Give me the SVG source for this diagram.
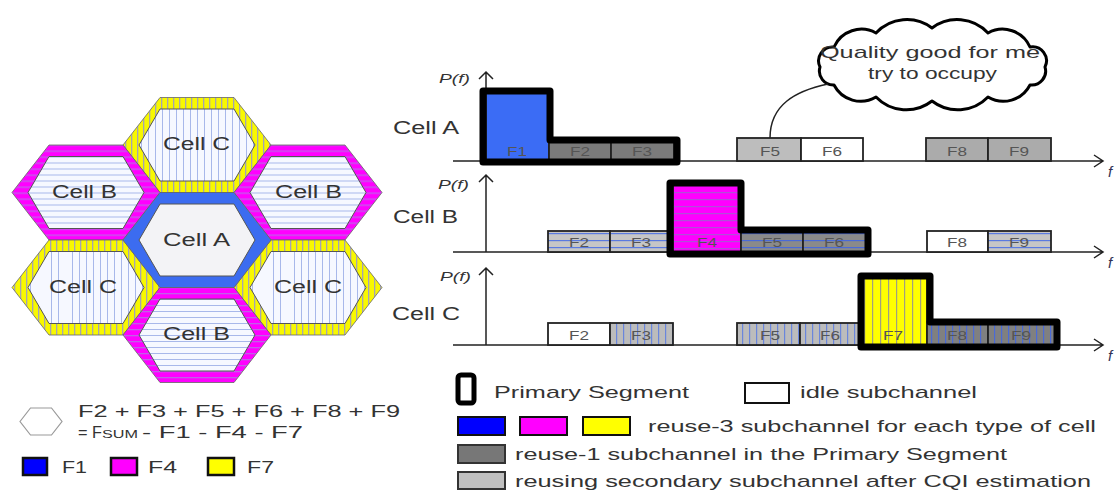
<svg xmlns="http://www.w3.org/2000/svg" xmlns:xlink="http://www.w3.org/1999/xlink" width="1118" height="492" viewBox="0 0 1118 492">
<style>
.t{font-family:"Liberation Sans",Arial,sans-serif;fill:#333}
.hl{font-size:18px}
.bl{font-size:13px;fill:#555;text-anchor:middle}
.pf{font-size:12px;font-style:italic}
.ax{font-size:15px;font-style:italic;fill:#335}
.lg{font-size:17px}
.box{stroke:#222;stroke-width:1.8}
.prim{fill:none;stroke:#000;stroke-width:7;stroke-linejoin:round}
.axis{fill:none;stroke:#222;stroke-width:1.5}
.hexo{stroke:#666;stroke-width:0.8}
.hexi{stroke:#555;stroke-width:1}
</style>
<defs>
<pattern id="pYelRing" width="6" height="10" patternUnits="userSpaceOnUse"><rect width="6" height="10" fill="#f8f800"/><rect width="1.3" height="10" fill="#a4a4b4"/></pattern>
<pattern id="pMagRing" width="10" height="6" patternUnits="userSpaceOnUse"><rect width="10" height="6" fill="#ff00ff"/><rect width="10" height="1.3" fill="#c060e8"/></pattern>
<pattern id="pBIn" width="10" height="6" patternUnits="userSpaceOnUse"><rect width="10" height="6" fill="#f6f8ff"/><rect width="10" height="1" fill="#a8b8ea"/></pattern>
<pattern id="pCIn" width="7" height="10" patternUnits="userSpaceOnUse"><rect width="7" height="10" fill="#f6f8ff"/><rect width="1" height="10" fill="#a8b8ea"/></pattern>
<pattern id="pHLight" width="10" height="7" patternUnits="userSpaceOnUse"><rect width="10" height="7" fill="#c6c6c6"/><rect y="2" width="10" height="1.2" fill="#5a7ae0"/></pattern>
<pattern id="pHDark" width="10" height="7" patternUnits="userSpaceOnUse"><rect width="10" height="7" fill="#8a8a8a"/><rect y="2" width="10" height="1.2" fill="#4a6ad8"/></pattern>
<pattern id="pVLight" width="7" height="10" patternUnits="userSpaceOnUse"><rect width="7" height="10" fill="#bcbcbc"/><rect width="1.2" height="10" fill="#6a86dc"/></pattern>
<pattern id="pVDark" width="7" height="10" patternUnits="userSpaceOnUse"><rect width="7" height="10" fill="#808080"/><rect width="1.2" height="10" fill="#4a6ad8"/></pattern>
<pattern id="pMag" width="10" height="7" patternUnits="userSpaceOnUse"><rect width="10" height="7" fill="#ff00ff"/><rect y="3" width="10" height="1.2" fill="#b050d8"/></pattern>
<pattern id="pYel" width="8" height="10" patternUnits="userSpaceOnUse"><rect width="8" height="10" fill="#ffff00"/><rect width="1.2" height="10" fill="#a0a080"/></pattern>
<polygon id="hexO" points="-74,0 -37,-47.5 37,-47.5 74,0 37,47.5 -37,47.5"/>
<polygon id="hexI" points="-58,0 -37,-36 37,-36 58,0 37,36 -37,36"/>
</defs>
<rect width="1118" height="492" fill="#fff"/>

<!-- Hexagon cluster -->
<g id="hex-c-top" transform="translate(197,145)">
<use xlink:href="#hexO" href="#hexO" class="hexo" fill="url(#pYelRing)"/>
<use xlink:href="#hexI" href="#hexI" class="hexi" fill="url(#pCIn)"/>
<text class="t hl" x="-34" y="5" textLength="67" lengthAdjust="spacingAndGlyphs">Cell C</text>
</g>
<g id="hex-b-left" transform="translate(86,192.5)">
<use xlink:href="#hexO" href="#hexO" class="hexo" fill="url(#pMagRing)"/>
<use xlink:href="#hexI" href="#hexI" class="hexi" fill="url(#pBIn)"/>
<text class="t hl" x="-34" y="5" textLength="65" lengthAdjust="spacingAndGlyphs">Cell B</text>
</g>
<g id="hex-b-right" transform="translate(308,192.5)">
<use xlink:href="#hexO" href="#hexO" class="hexo" fill="url(#pMagRing)"/>
<use xlink:href="#hexI" href="#hexI" class="hexi" fill="url(#pBIn)"/>
<text class="t hl" x="-33" y="5" textLength="67" lengthAdjust="spacingAndGlyphs">Cell B</text>
</g>
<g id="hex-c-left" transform="translate(86,287.5)">
<use xlink:href="#hexO" href="#hexO" class="hexo" fill="url(#pYelRing)"/>
<use xlink:href="#hexI" href="#hexI" class="hexi" fill="url(#pCIn)"/>
<text class="t hl" x="-37" y="5" textLength="68" lengthAdjust="spacingAndGlyphs">Cell C</text>
</g>
<g id="hex-c-right" transform="translate(308,287.5)">
<use xlink:href="#hexO" href="#hexO" class="hexo" fill="url(#pYelRing)"/>
<use xlink:href="#hexI" href="#hexI" class="hexi" fill="url(#pCIn)"/>
<text class="t hl" x="-34" y="5" textLength="68" lengthAdjust="spacingAndGlyphs">Cell C</text>
</g>
<g id="hex-b-bottom" transform="translate(197,335)">
<use xlink:href="#hexO" href="#hexO" class="hexo" fill="url(#pMagRing)"/>
<use xlink:href="#hexI" href="#hexI" class="hexi" fill="url(#pBIn)"/>
<text class="t hl" x="-34" y="5" textLength="67" lengthAdjust="spacingAndGlyphs">Cell B</text>
</g>
<g id="hex-a" transform="translate(197,240)">
<use xlink:href="#hexO" href="#hexO" class="hexo" fill="#3c6cf0"/>
<use xlink:href="#hexI" href="#hexI" class="hexi" fill="#f3f3f6"/>
<text class="t hl" x="-34" y="6" textLength="67" lengthAdjust="spacingAndGlyphs">Cell A</text>
</g>

<!-- Axes -->
<g id="axes">
<path class="axis" d="M453,161 H1103 M1094,155 L1103,161 L1094,167 M486,161 V72 M479,79 L486,72 L493,79"/>
<path class="axis" d="M453,252 H1103 M1094,246 L1103,252 L1094,258 M486,252 V175 M479,182 L486,175 L493,182"/>
<path class="axis" d="M453,345 H1103 M1094,339 L1103,345 L1094,351 M486,345 V268 M479,275 L486,268 L493,275"/>
<text class="t pf" x="439" y="83" textLength="31" lengthAdjust="spacingAndGlyphs">P(f)</text>
<text class="t pf" x="438" y="189" textLength="31" lengthAdjust="spacingAndGlyphs">P(f)</text>
<text class="t pf" x="440" y="281" textLength="31" lengthAdjust="spacingAndGlyphs">P(f)</text>
<text class="t ax" x="1108" y="177">f</text>
<text class="t ax" x="1108" y="268">f</text>
<text class="t ax" x="1108" y="361">f</text>
</g>

<!-- Cell A spectrum -->
<g id="cell-a">
<text class="t hl" x="393" y="134" textLength="66" lengthAdjust="spacingAndGlyphs">Cell A</text>
<rect class="box" x="486" y="91" width="63" height="70" fill="#3b6cf5"/>
<rect class="box" x="549" y="139" width="62" height="22" fill="#7b7b7b"/>
<rect class="box" x="611" y="139" width="63" height="22" fill="#7b7b7b"/>
<rect class="box" x="737" y="138" width="64" height="23" fill="#bdbdbd"/>
<rect class="box" x="801" y="138" width="62" height="23" fill="#fff"/>
<rect class="box" x="926" y="138" width="62" height="23" fill="#ababab"/>
<rect class="box" x="988" y="138" width="63" height="23" fill="#ababab"/>
<path class="prim" d="M483,162 V91 H550 V140 H677 V162 Z"/>
<text class="t bl" x="517" y="156" textLength="20" lengthAdjust="spacingAndGlyphs">F1</text>
<text class="t bl" x="580" y="156" textLength="20" lengthAdjust="spacingAndGlyphs">F2</text>
<text class="t bl" x="642" y="156" textLength="20" lengthAdjust="spacingAndGlyphs">F3</text>
<text class="t bl" x="770" y="156" textLength="20" lengthAdjust="spacingAndGlyphs">F5</text>
<text class="t bl" x="832" y="156" textLength="20" lengthAdjust="spacingAndGlyphs">F6</text>
<text class="t bl" x="957" y="156" textLength="20" lengthAdjust="spacingAndGlyphs">F8</text>
<text class="t bl" x="1019" y="156" textLength="20" lengthAdjust="spacingAndGlyphs">F9</text>
</g>

<!-- Cell B spectrum -->
<g id="cell-b">
<text class="t hl" x="393" y="223" textLength="65" lengthAdjust="spacingAndGlyphs">Cell B</text>
<rect class="box" x="548" y="231" width="62" height="21" fill="url(#pHLight)"/>
<rect class="box" x="610" y="231" width="63" height="21" fill="url(#pHLight)"/>
<rect class="box" x="673" y="183" width="68" height="69" fill="url(#pMag)"/>
<rect class="box" x="741" y="230" width="62" height="22" fill="url(#pHDark)"/>
<rect class="box" x="803" y="230" width="64" height="22" fill="url(#pHDark)"/>
<rect class="box" x="927" y="231" width="61" height="21" fill="#fff"/>
<rect class="box" x="988" y="231" width="63" height="21" fill="url(#pHLight)"/>
<path class="prim" d="M670,254 V183 H741 V230 H868 V254 Z"/>
<text class="t bl" x="579" y="247" textLength="20" lengthAdjust="spacingAndGlyphs">F2</text>
<text class="t bl" x="641" y="247" textLength="20" lengthAdjust="spacingAndGlyphs">F3</text>
<text class="t bl" x="707" y="247" textLength="20" lengthAdjust="spacingAndGlyphs">F4</text>
<text class="t bl" x="772" y="247" textLength="20" lengthAdjust="spacingAndGlyphs">F5</text>
<text class="t bl" x="834" y="247" textLength="20" lengthAdjust="spacingAndGlyphs">F6</text>
<text class="t bl" x="957" y="247" textLength="20" lengthAdjust="spacingAndGlyphs">F8</text>
<text class="t bl" x="1019" y="247" textLength="20" lengthAdjust="spacingAndGlyphs">F9</text>
</g>

<!-- Cell C spectrum -->
<g id="cell-c">
<text class="t hl" x="392" y="320" textLength="68" lengthAdjust="spacingAndGlyphs">Cell C</text>
<rect class="box" x="548" y="323" width="62" height="22" fill="#fff"/>
<rect class="box" x="610" y="323" width="63" height="22" fill="url(#pVLight)"/>
<rect class="box" x="737" y="323" width="63" height="22" fill="url(#pVLight)"/>
<rect class="box" x="800" y="323" width="61" height="22" fill="url(#pVLight)"/>
<rect class="box" x="861" y="276" width="66" height="69" fill="url(#pYel)"/>
<rect class="box" x="927" y="322" width="61" height="23" fill="url(#pVDark)"/>
<rect class="box" x="988" y="322" width="69" height="23" fill="url(#pVDark)"/>
<path class="prim" d="M861,347 V276 H930 V322 H1057 V347 Z"/>
<text class="t bl" x="579" y="340" textLength="20" lengthAdjust="spacingAndGlyphs">F2</text>
<text class="t bl" x="641" y="340" textLength="20" lengthAdjust="spacingAndGlyphs">F3</text>
<text class="t bl" x="770" y="340" textLength="20" lengthAdjust="spacingAndGlyphs">F5</text>
<text class="t bl" x="830" y="340" textLength="20" lengthAdjust="spacingAndGlyphs">F6</text>
<text class="t bl" x="893" y="340" textLength="20" lengthAdjust="spacingAndGlyphs">F7</text>
<text class="t bl" x="957" y="340" textLength="20" lengthAdjust="spacingAndGlyphs">F8</text>
<text class="t bl" x="1021" y="340" textLength="20" lengthAdjust="spacingAndGlyphs">F9</text>
</g>

<!-- Callout cloud -->
<g id="cloud">
<path d="M820,67 A14,14 0 0 1 834,47 A30,30 0 0 1 876,33 A42,42 0 0 1 932,28 A42,42 0 0 1 988,33 A30,30 0 0 1 1030,47 A14,14 0 0 1 1045,67 A14,14 0 0 1 1030,85 A30,30 0 0 1 988,97 A42,42 0 0 1 932,101 A42,42 0 0 1 876,97 A30,30 0 0 1 834,85 A14,14 0 0 1 820,67 Z" fill="#fff" stroke="#000" stroke-width="3" stroke-linejoin="round"/>
<text class="t lg" x="820" y="58" textLength="220" lengthAdjust="spacingAndGlyphs">Quality good for me</text>
<text class="t lg" x="868" y="79" textLength="129" lengthAdjust="spacingAndGlyphs">try to occupy</text>
</g>

<g id="connectors">
<path d="M828,84 C795,91 770,105 770,138" fill="none" stroke="#222" stroke-width="1.5"/>
</g>

<!-- Legend left -->
<g id="legend-left">
<polygon points="20,421.5 30.5,408 51.5,408 62,421.5 51.5,435 30.5,435" fill="#fff" stroke="#999" stroke-width="1.2"/>
<text class="t lg" x="78" y="417" textLength="322" lengthAdjust="spacingAndGlyphs">F2 + F3 + F5 + F6 + F8 + F9</text>
<text class="t lg" x="78" y="438" textLength="24" lengthAdjust="spacingAndGlyphs">= F</text>
<text class="t" x="102" y="438" font-size="11" textLength="36" lengthAdjust="spacingAndGlyphs">SUM</text>
<text class="t lg" x="142" y="438" textLength="161" lengthAdjust="spacingAndGlyphs">- F1 - F4 - F7</text>
<rect x="23" y="458" width="24" height="17" fill="#0000ff" stroke="#111" stroke-width="2.5"/>
<text class="t lg" x="62" y="473" textLength="25" lengthAdjust="spacingAndGlyphs">F1</text>
<rect x="111" y="458" width="26" height="17" fill="#ff00ff" stroke="#111" stroke-width="2.5"/>
<text class="t lg" x="148" y="473" textLength="29" lengthAdjust="spacingAndGlyphs">F4</text>
<rect x="208" y="458" width="26" height="17" fill="#ffff00" stroke="#111" stroke-width="2.5"/>
<text class="t lg" x="247" y="473" textLength="27" lengthAdjust="spacingAndGlyphs">F7</text>
</g>

<!-- Legend right -->
<g id="legend-right">
<rect x="458" y="375" width="16" height="28" rx="3" fill="#fff" stroke="#000" stroke-width="5"/>
<text class="t lg" x="494" y="398" textLength="195" lengthAdjust="spacingAndGlyphs">Primary Segment</text>
<rect x="745" y="383" width="44" height="20" fill="#fff" stroke="#111" stroke-width="2"/>
<text class="t lg" x="800" y="398" textLength="177" lengthAdjust="spacingAndGlyphs">idle subchannel</text>
<rect x="458" y="417" width="47" height="18" fill="#0000ff" stroke="#111" stroke-width="2"/>
<rect x="520" y="417" width="47" height="18" fill="#ff00ff" stroke="#111" stroke-width="2"/>
<rect x="583" y="417" width="47" height="18" fill="#ffff00" stroke="#111" stroke-width="2"/>
<text class="t lg" x="648" y="432" textLength="448" lengthAdjust="spacingAndGlyphs">reuse-3 subchannel for each type of cell</text>
<rect x="458" y="445" width="47" height="18" fill="#777" stroke="#333" stroke-width="2"/>
<text class="t lg" x="515" y="460" textLength="492" lengthAdjust="spacingAndGlyphs">reuse-1 subchannel in the Primary Segment</text>
<rect x="458" y="472" width="47" height="17" fill="#c0c0c0" stroke="#333" stroke-width="2"/>
<text class="t lg" x="515" y="487" textLength="576" lengthAdjust="spacingAndGlyphs">reusing secondary subchannel after CQI estimation</text>
</g>
</svg>
